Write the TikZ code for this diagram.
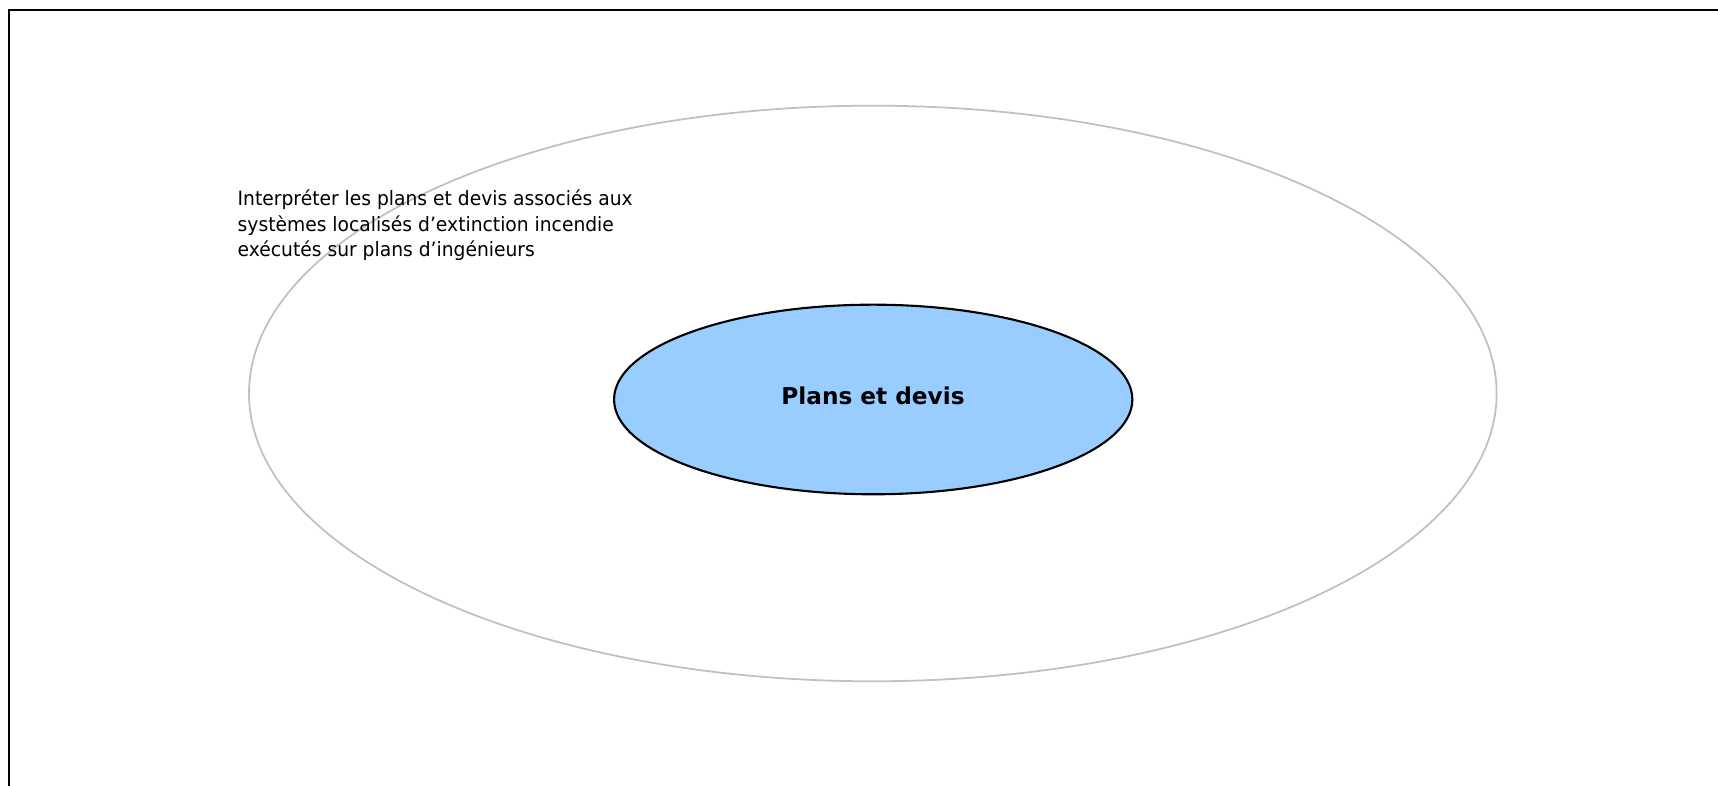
\documentclass[tikz,border=0pt]{standalone}
\usepackage{fontspec}
\usetikzlibrary{shapes.geometric}
\newfontfamily\labelfont[FakeStretch=0.95]{DejaVu Sans}
\newfontfamily\titlefont{DejaVu Sans Bold}
\definecolor{ringgray}{RGB}{192,192,192}
\definecolor{planblue}{RGB}{153,204,255}
\tikzset{
  ring/.style={ellipse, draw=ringgray, line width=0.5pt, inner sep=0pt},
  core/.style={ellipse, draw=black, line width=0.6pt, fill=planblue, inner sep=0pt},
  note/.style={align=left, inner sep=0pt, anchor=base west,
    font=\labelfont\fontsize{5.6}{7.26}\selectfont}
}
\begin{document}
\begin{tikzpicture}
        \useasboundingbox (0,0) rectangle (17.18,7.86);
        \draw[line width=0.6pt] (0.09,0) -- (0.09,7.76) -- (17.18,7.76);

        \node[ring, minimum width=12.476cm, minimum height=5.756cm] (outer) at (8.728,3.925) {};
        \node[core, minimum width=5.183cm, minimum height=1.896cm] (plans) at (8.732,3.865) {};
        \node[font=\titlefont\fontsize{6.6}{7}\selectfont, anchor=base] (title) at (8.73,3.81) {Plans et devis};

        % base of the note is its last line
        \node[note] (competence) at (2.37,5.29) {Interpréter les plans et devis associés aux\\
          systèmes localisés d’extinction incendie\\
          exécutés sur plans d’ingénieurs};
      \end{tikzpicture}
\end{document}
